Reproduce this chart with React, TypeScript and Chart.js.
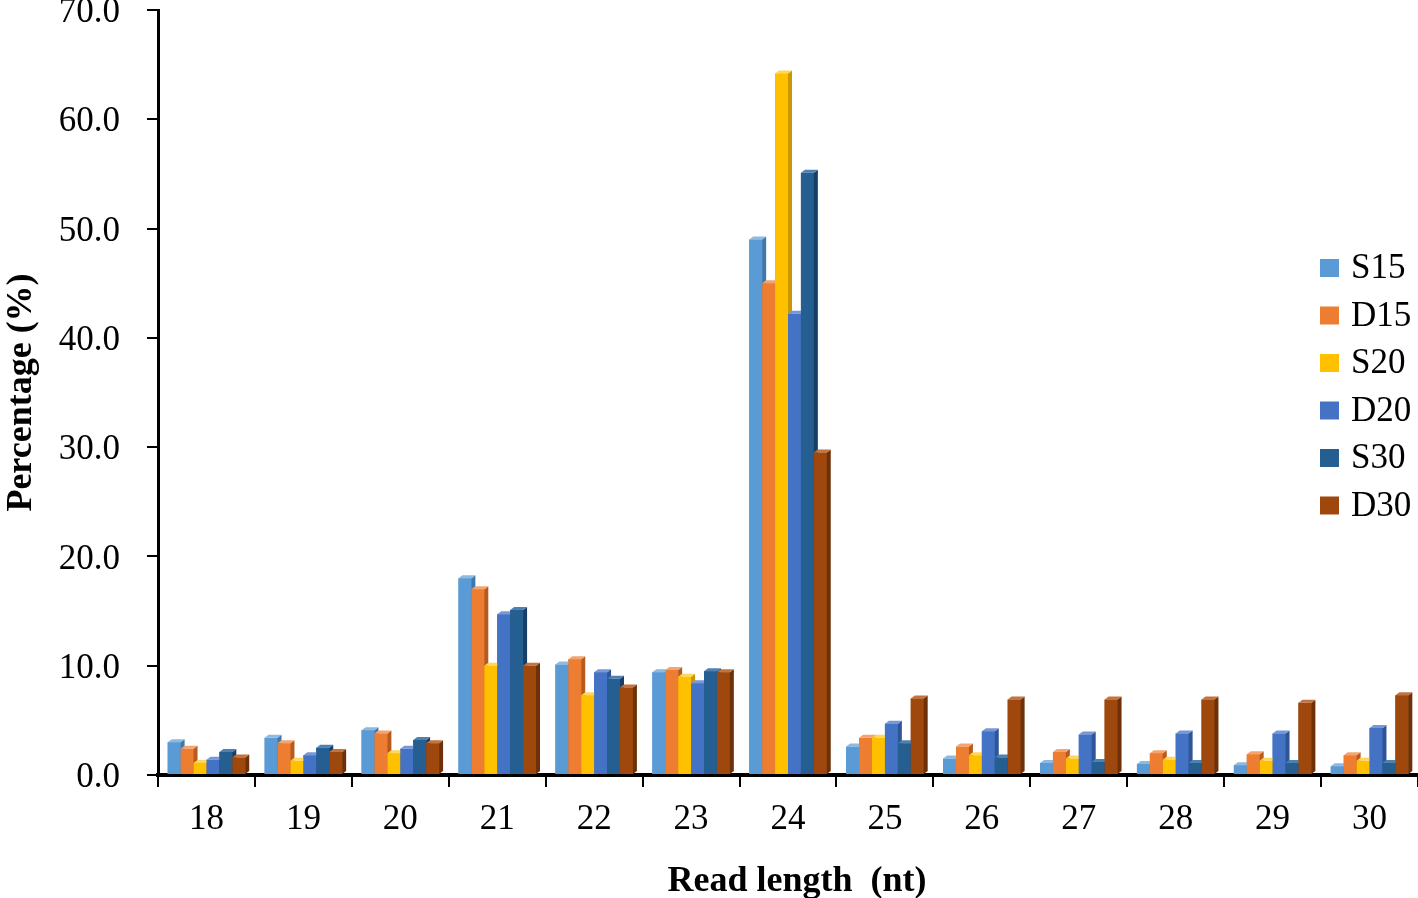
import React, { useEffect, useRef } from "react";
import { Chart, registerables } from "chart.js";

Chart.register(...registerables);

const categories = ["18", "19", "20", "21", "22", "23", "24", "25", "26", "27", "28", "29", "30"];
const seriesNames = ["S15", "D15", "S20", "D20", "S30", "D30"];
const s15 = [3.0, 3.4, 4.1, 18.0, 10.1, 9.4, 49.0, 2.6, 1.5, 1.1, 1.0, 0.9, 0.8];
const d15 = [2.4, 2.9, 3.8, 17.0, 10.6, 9.6, 45.0, 3.4, 2.6, 2.1, 2.0, 1.9, 1.8];
const s20 = [1.1, 1.3, 2.0, 10.0, 7.3, 9.0, 64.2, 3.4, 1.8, 1.5, 1.4, 1.3, 1.3];
const d20 = [1.4, 1.8, 2.4, 14.7, 9.4, 8.4, 42.2, 4.7, 4.0, 3.7, 3.8, 3.8, 4.3];
const s30 = [2.1, 2.5, 3.2, 15.1, 8.8, 9.5, 55.1, 2.9, 1.6, 1.2, 1.1, 1.1, 1.1];
const d30 = [1.6, 2.1, 2.9, 10.0, 8.0, 9.4, 29.5, 7.0, 6.9, 6.9, 6.9, 6.6, 7.3];
const yTicks = [0, 10, 20, 30, 40, 50, 60, 70];

const seriesValues = [s15, d15, s20, d20, s30, d30];
const frontColors = ["#5B9BD5", "#ED7D31", "#FFC000", "#4472C4", "#255E91", "#9E480E"];
const sideColors = ["#3F78AC", "#B85A1C", "#C99700", "#2E5597", "#173F66", "#6E3009"];
const topColors = ["#8DB9E3", "#F3A571", "#FFD659", "#7797D6", "#4F81B0", "#C2733F"];

const FONT = "'Liberation Serif', 'Times New Roman', serif";

// Redraw bars in series order (first series at back) with a 3D side and top face.
const bar3d = {
  id: "bar3d",
  afterDatasetsDraw(chart: any) {
    const ctx = chart.ctx;
    const area = chart.chartArea;
    const dx = 4;
    const dy = 3;
    ctx.save();
    ctx.beginPath();
    ctx.rect(area.left + 2, 0, area.right - area.left, area.bottom - 1);
    ctx.clip();
    const n = chart.data.datasets.length;
    const catCount = chart.data.labels.length;
    for (let c = 0; c < catCount; c++) {
      for (let i = 0; i < n; i++) {
        const el = chart.getDatasetMeta(i).data[c];
        if (!el) continue;
        const p = el.getProps(["x", "y", "base", "width"], true);
        const l = p.x - p.width / 2;
        const r = p.x + p.width / 2;
        ctx.fillStyle = frontColors[i];
        ctx.fillRect(l, p.y, p.width + 0.5, p.base - p.y);
        ctx.fillStyle = sideColors[i];
        ctx.beginPath();
        ctx.moveTo(r, p.y);
        ctx.lineTo(r + dx, p.y - dy);
        ctx.lineTo(r + dx, p.base - dy);
        ctx.lineTo(r, p.base);
        ctx.closePath();
        ctx.fill();
        ctx.fillStyle = topColors[i];
        ctx.beginPath();
        ctx.moveTo(l, p.y);
        ctx.lineTo(l + dx, p.y - dy);
        ctx.lineTo(r + dx, p.y - dy);
        ctx.lineTo(r, p.y);
        ctx.closePath();
        ctx.fill();
      }
    }
    ctx.restore();
  },
};

const legendPlugin = {
  id: "customLegend",
  afterDraw(chart: any) {
    const ctx = chart.ctx;
    ctx.save();
    ctx.font = `35px ${FONT}`;
    ctx.textBaseline = "middle";
    ctx.textAlign = "left";
    seriesNames.forEach((name, i) => {
      const y = 268 + i * 47.5;
      ctx.fillStyle = frontColors[i];
      ctx.fillRect(1320, y - 9, 19, 18);
      ctx.fillStyle = "#000";
      ctx.fillText(name, 1351, y + 1);
    });
    ctx.restore();
  },
};

export default function App() {
  const ref = useRef<HTMLCanvasElement>(null);
  useEffect(() => {
    if (!ref.current) return;
    const chart = new Chart(ref.current, {
      type: "bar",
      data: {
        labels: categories,
        datasets: seriesNames.map((name, i) => ({
          label: name,
          data: seriesValues[i],
          backgroundColor: frontColors[i],
          borderWidth: 0,
          categoryPercentage: 0.8,
          barPercentage: 1.0,
        })),
      },
      options: {
        animation: false,
        responsive: false,
        maintainAspectRatio: false,
        layout: { padding: { top: 10, right: 0, left: 0, bottom: 0 } },
        plugins: {
          legend: { display: false },
          tooltip: { enabled: false },
        },
        scales: {
          x: {
            grid: {
              offset: true,
              drawOnChartArea: false,
              drawTicks: true,
              tickLength: 12,
              color: "#000",
              lineWidth: 2,
            },
            border: { display: true, color: "#000", width: 4 },
            ticks: {
              color: "#000",
              font: { family: FONT, size: 35 },
              padding: 12,
              maxRotation: 0,
            },
            title: {
              display: true,
              text: "  Read length  (nt)",
              color: "#000",
              font: { family: FONT, size: 36, weight: "bold" },
              padding: { top: 0, bottom: -5 },
            },
            afterFit(scale: any) {
              scale.height = 123;
              scale.paddingLeft = 0;
              scale.paddingRight = 0;
            },
          },
          y: {
            min: 0,
            max: 70,
            afterBuildTicks(scale: any) {
              scale.ticks = yTicks.map((v) => ({ value: v }));
            },
            grid: {
              drawOnChartArea: false,
              drawTicks: true,
              tickLength: 11,
              color: "#000",
              lineWidth: 2,
            },
            border: { display: true, color: "#000", width: 3 },
            ticks: {
              color: "#000",
              font: { family: FONT, size: 35 },
              padding: 27,
              labelOffset: 3,
              callback: (v: any) => Number(v).toFixed(1),
            },
            title: {
              display: true,
              text: "Percentage (%)",
              color: "#000",
              font: { family: FONT, size: 36, weight: "bold" },
              padding: { top: 0, bottom: 0 },
            },
            afterFit(scale: any) {
              scale.width = 158;
              scale.paddingTop = 0;
              scale.paddingBottom = 0;
            },
          },
        },
      },
      plugins: [bar3d, legendPlugin],
    });
    return () => chart.destroy();
  }, []);
  return (
    <div style={{ position: "fixed", left: 0, top: 0, width: 1418, height: 898, background: "#fff" }}>
      <canvas ref={ref} width={1418} height={898} style={{ display: "block" }} />
    </div>
  );
}
